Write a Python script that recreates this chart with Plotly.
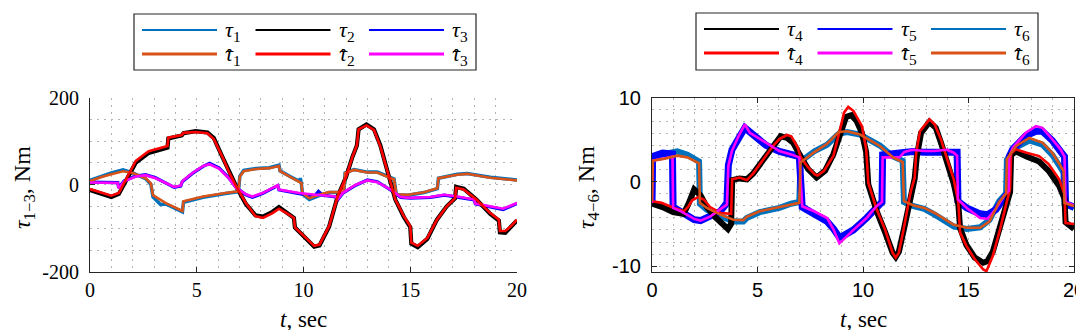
import plotly.graph_objects as go

W, H = 1084, 330

# ---------------- Left panel: joints 1-3 (t [s], torque [Nm]) ----------------
TAU1 = [(0,10),(0.5,19),(1.0,27),(1.55,34),(2.0,27),(2.6,14),(2.85,1),(2.95,-28),(3.3,-45),(3.55,-44),(4.33,-62),(4.38,-40),(5.3,-29),(6.35,-20),(6.95,-16),(7.02,20),(7.2,33),(7.77,37),(8.4,39),(8.85,45),(8.9,32),(9.33,20),(9.8,8),(9.85,15),(9.9,3),(9.95,-21),(10.27,-34),(10.73,-25),(11.2,-18),(11.67,-18),(11.9,-12),(11.95,27),(12.37,35),(12.99,29),(13.46,29),(14.24,13),(14.35,-23),(14.9,-24),(15.64,-18),(16.27,-9),(16.32,15),(17.2,24),(17.66,26),(18.75,17),(19.3,14),(20.0,11)]
TAU1_HAT = [(0,8),(0.5,17),(1.0,24),(1.55,31),(2.0,27),(2.6,15),(2.85,3),(2.95,-24),(3.55,-42),(4.33,-60),(4.38,-38),(5.3,-27),(6.35,-19),(6.95,-15),(7.02,19),(7.2,31),(7.77,36),(8.4,38),(8.85,43),(8.9,31),(9.33,19),(9.9,4),(9.95,-19),(10.27,-31),(10.73,-23),(11.2,-17),(11.67,-17),(11.9,-11),(11.95,27),(12.37,34),(12.99,28),(13.46,28),(14.24,12),(14.35,-22),(14.9,-23),(15.64,-17),(16.27,-8),(16.32,15),(17.2,23),(17.66,25),(18.75,16),(19.3,13),(20.0,10)]
TAU2 = [(0,-12),(0.5,-20),(1.0,-28),(1.35,-21),(1.7,12),(2.15,51),(2.75,73),(3.4,82),(3.63,85),(3.67,106),(4.3,113),(4.38,118),(4.95,123),(5.5,120),(5.8,107),(6.2,64),(6.5,30),(6.85,-4),(7.3,-44),(7.75,-70),(8.1,-73),(8.55,-62),(8.85,-51),(9.3,-66),(9.55,-76),(9.6,-98),(9.95,-116),(10.5,-142),(10.75,-139),(11.2,-96),(11.6,-27),(12.0,19),(12.3,65),(12.5,90),(12.58,127),(12.95,138),(13.3,127),(13.6,90),(14.0,19),(14.3,-34),(14.7,-74),(15.0,-97),(15.05,-135),(15.35,-143),(15.8,-124),(16.25,-80),(16.7,-50),(17.1,-31),(17.15,-5),(17.5,-9),(18.1,-34),(18.75,-67),(19.15,-82),(19.2,-109),(19.45,-110),(19.7,-98),(20.0,-82)]
TAU2_HAT = [(0,-10),(0.5,-17),(1.0,-25),(1.35,-19),(1.7,15),(2.15,55),(2.75,77),(3.4,86),(3.63,89),(3.67,108),(4.3,114),(4.38,119),(4.95,121),(5.5,118),(5.8,105),(6.2,64),(6.5,30),(6.85,-4),(7.3,-42),(7.75,-72),(8.1,-76),(8.55,-65),(8.85,-55),(9.3,-68),(9.55,-76),(9.6,-98),(9.95,-114),(10.5,-140),(10.75,-137),(11.2,-95),(11.6,-27),(12.0,19),(12.3,65),(12.5,90),(12.58,127),(12.95,136),(13.3,126),(13.6,88),(14.0,19),(14.3,-34),(14.7,-72),(15.0,-95),(15.05,-133),(15.35,-140),(15.8,-122),(16.25,-80),(16.7,-50),(17.1,-31),(17.15,-7),(17.5,-11),(18.1,-34),(18.75,-65),(19.15,-80),(19.2,-106),(19.45,-106),(19.7,-96),(20.0,-80)]
TAU3 = [(0,6),(0.6,5),(1.3,5),(1.34,-7),(1.6,9),(2.15,20),(2.6,23),(3.08,16),(3.55,3),(3.94,-6),(4.25,-3),(4.32,7),(4.8,26),(5.3,42),(5.6,49),(6.04,39),(6.5,16),(6.84,-6),(7.3,-23),(7.6,-29),(8.08,-20),(8.8,-2),(8.85,-12),(9.8,-21),(10.5,-27),(10.7,-15),(10.9,-24),(11.5,-28),(11.6,-35),(11.83,-20),(12.45,-1),(12.99,11),(13.46,7),(14.08,-12),(14.55,-29),(15.0,-31),(15.95,-29),(16.6,-24),(17.2,-28),(18.0,-35),(18.05,-44),(18.75,-52),(19.35,-57),(20.0,-43)]
TAU3_HAT = [(0,5),(0.6,4),(1.3,4),(1.34,-8),(1.6,8),(2.15,19),(2.6,22),(3.08,15),(3.55,4),(3.94,-5),(4.25,-2),(4.32,8),(4.8,27),(5.3,43),(5.6,47),(6.04,37),(6.5,15),(6.84,-7),(7.3,-22),(7.6,-27),(8.08,-19),(8.8,-1),(8.85,-11),(9.8,-19),(10.58,-23),(11.5,-27),(11.6,-34),(11.83,-19),(12.45,0),(12.99,10),(13.46,6),(14.08,-11),(14.55,-28),(15.0,-30),(15.95,-28),(16.6,-23),(17.2,-27),(18.0,-34),(18.05,-43),(18.75,-50),(19.35,-55),(20.0,-42)]

# ---------------- Right panel: joints 4-6 ----------------
TAU4 = [(0,-2.6),(0.5,-3.0),(1.0,-3.6),(1.5,-3.8),(1.75,-2.5),(2.0,-0.9),(2.3,-1.6),(2.6,-3.0),(3.0,-4.2),(3.3,-5.0),(3.6,-5.6),(3.75,-5.0),(3.8,0.2),(4.15,0.4),(4.5,0.3),(4.8,1.0),(5.4,3.0),(5.75,4.4),(6.1,5.4),(6.4,5.2),(6.7,4.6),(7.0,3.2),(7.4,1.5),(7.8,0.5),(8.2,1.3),(8.6,3.3),(8.95,6.0),(9.2,7.7),(9.45,7.9),(9.7,7.2),(9.95,5.8),(10.15,3.5),(10.25,-0.3),(10.65,-3.5),(11.05,-6.0),(11.4,-8.4),(11.55,-8.9),(11.7,-8.3),(11.95,-5.5),(12.25,-1.5),(12.45,0.4),(12.55,3.0),(12.75,5.8),(13.15,7.1),(13.45,6.4),(13.7,4.6),(14.0,2.2),(14.3,-0.2),(14.52,-2.7),(14.6,-5.5),(14.9,-7.5),(15.3,-9.0),(15.7,-9.6),(15.9,-9.4),(16.15,-8.3),(16.5,-5.5),(16.8,-2.6),(16.97,-1.2),(17.02,3.2),(17.25,3.6),(17.75,3.0),(18.35,2.4),(18.8,1.3),(19.3,-0.5),(19.55,-2.0),(19.6,-4.8),(20.0,-5.6)]
TAU4_HAT = [(0,-2.3),(0.45,-2.5),(1.05,-3.1),(1.5,-3.5),(1.7,-3.0),(1.9,-2.2),(2.2,-1.8),(2.45,-2.1),(2.75,-3.0),(3.25,-3.7),(3.75,-3.8),(3.8,0.3),(4.15,0.5),(4.5,0.2),(4.8,1.0),(5.4,3.1),(5.75,4.3),(6.05,5.1),(6.4,5.55),(6.6,5.4),(6.9,4.1),(7.05,2.9),(7.4,1.7),(7.7,0.9),(7.85,0.75),(8.15,1.3),(8.6,3.1),(8.95,6.6),(9.1,8.2),(9.3,8.9),(9.55,8.4),(9.95,6.6),(10.15,3.9),(10.25,-0.1),(10.65,-3.3),(11.05,-5.7),(11.4,-8.4),(11.55,-9.0),(11.7,-8.4),(11.95,-5.3),(12.25,-1.3),(12.45,0.5),(12.52,3.4),(12.7,6.0),(13.15,7.4),(13.4,6.8),(13.7,5.0),(14.0,2.6),(14.3,0.3),(14.52,-2.5),(14.6,-6.0),(14.9,-7.6),(15.3,-9.2),(15.7,-10.4),(15.85,-10.6),(16.15,-8.8),(16.5,-5.6),(16.8,-2.5),(16.97,-0.9),(17.02,3.4),(17.25,3.85),(17.75,3.45),(18.35,3.05),(18.8,2.1),(19.3,0.3),(19.55,-1.5),(19.6,-4.9),(20.0,-5.0)]
TAU5 = [(0,-2.5),(0.03,3.0),(0.5,3.4),(0.97,3.3),(1.0,-3.0),(1.37,-3.6),(2.0,-4.5),(2.3,-4.6),(2.77,-4.1),(3.24,-3.5),(3.55,-2.5),(3.62,2.0),(3.79,3.8),(4.1,5.2),(4.4,6.4),(4.64,5.9),(5.42,4.3),(6.04,3.6),(6.59,3.2),(6.98,3.0),(7.12,-3.0),(7.68,-3.9),(8.3,-4.7),(8.61,-5.6),(8.88,-6.6),(9.0,-6.5),(9.55,-5.7),(10.17,-4.3),(10.64,-2.9),(10.9,-2.4),(10.93,3.2),(11.73,3.4),(11.96,3.5),(12.35,3.6),(12.9,3.5),(13.36,3.5),(13.98,3.7),(14.3,3.6),(14.46,3.5),(14.5,-2.3),(14.92,-3.1),(15.55,-3.8),(15.9,-3.9),(16.3,-3.3),(16.7,-2.0),(16.9,-1.2),(16.93,3.0),(17.1,3.9),(17.73,5.5),(18.2,6.0),(18.5,6.0),(18.97,4.9),(19.36,3.6),(19.55,3.0),(19.6,-2.6),(20.0,-3.0)]
TAU5_HAT = [(0,-2.5),(0.03,2.5),(0.6,2.8),(0.97,3.0),(1.0,-3.1),(1.37,-3.5),(2.0,-4.4),(2.3,-4.6),(2.77,-4.1),(3.24,-3.3),(3.55,-2.7),(3.62,1.9),(3.79,3.7),(4.1,5.4),(4.4,6.8),(4.64,5.8),(5.42,4.65),(6.04,3.65),(6.59,3.25),(6.98,2.9),(7.12,-2.9),(7.68,-3.5),(8.3,-4.3),(8.61,-5.7),(8.88,-7.3),(9.0,-7.0),(9.55,-5.7),(10.17,-4.3),(10.64,-2.9),(10.9,-2.4),(10.93,2.9),(11.73,2.9),(11.96,3.55),(12.35,3.8),(12.9,3.65),(13.36,3.65),(13.98,3.8),(14.3,3.45),(14.46,3.1),(14.5,-2.1),(14.92,-3.1),(15.55,-4.3),(15.9,-4.4),(16.3,-3.2),(16.7,-1.6),(16.9,-1.1),(16.93,2.9),(17.1,4.05),(17.73,5.85),(18.2,6.6),(18.5,6.4),(18.97,5.05),(19.36,3.85),(19.55,3.0),(19.6,-2.4),(20.0,-2.8)]
TAU6 = [(0,-2.3),(0.04,2.9),(0.6,3.3),(1.2,3.6),(1.68,3.2),(2.23,2.4),(2.27,-2.6),(2.6,-3.3),(3.24,-4.1),(3.86,-4.7),(4.33,-4.7),(4.49,-4.3),(5.1,-3.6),(6.04,-3.1),(6.59,-2.6),(6.98,-2.4),(7.04,2.4),(7.68,3.6),(8.3,4.4),(8.85,5.7),(9.24,5.9),(9.86,5.6),(10.8,4.3),(11.42,3.0),(11.88,2.5),(11.94,-2.4),(12.4,-2.9),(12.9,-3.2),(13.4,-3.9),(14.3,-5.3),(14.92,-5.6),(15.55,-5.4),(16.0,-4.5),(16.45,-2.3),(16.78,-1.4),(16.82,2.6),(17.26,4.1),(17.88,4.9),(18.5,4.4),(18.97,3.2),(19.36,1.7),(19.5,1.1),(19.55,-2.6),(20.0,-3.1)]
TAU6_HAT = [(0,-2.3),(0.04,2.5),(0.6,2.75),(1.2,3.1),(1.68,2.9),(2.23,2.2),(2.27,-2.5),(2.6,-3.1),(3.24,-3.9),(3.86,-4.5),(4.33,-4.55),(4.49,-4.15),(5.1,-3.5),(6.04,-3.0),(6.59,-2.7),(6.98,-2.5),(7.04,2.3),(7.68,3.5),(8.3,4.5),(8.85,5.9),(9.24,6.0),(9.86,5.6),(10.8,4.25),(11.42,2.9),(11.88,2.35),(11.94,-2.3),(12.4,-2.8),(12.9,-3.1),(13.4,-3.7),(14.3,-5.1),(14.92,-5.45),(15.55,-5.45),(16.0,-4.7),(16.45,-2.4),(16.78,-1.4),(16.82,2.7),(17.26,4.25),(17.88,5.2),(18.5,4.65),(18.97,3.45),(19.36,1.9),(19.5,1.3),(19.55,-2.5),(20.0,-2.9)]

X_TICKS = [0, 5, 10, 15, 20]
L_Y_TICKS = [-200, 0, 200]
L_Y_TEXT = ["-200", "0", "200"]
R_Y_TICKS = [-10, 0, 10]
R_Y_TEXT = ["-10", "0", "10"]

C_LBLUE = "#0072BD"
C_ORANGE = "#D95319"
C_BLACK = "#000000"
C_RED = "#FF0000"
C_BLUE = "#0000FF"
C_MAG = "#FF00FF"

SERIF = "Liberation Serif"
SANS = "Liberation Sans"
AX = "#262626"
GRID = "#b4b4b4"

fig = go.Figure()


def add(series, name, color, width, xa, ya):
    t = [p[0] for p in series]
    v = [p[1] for p in series]
    fig.add_trace(go.Scatter(x=t, y=v, mode="lines", name=name,
                             line=dict(color=color, width=width),
                             xaxis=xa, yaxis=ya, showlegend=False,
                             hoverinfo="skip"))


# left panel
add(TAU1, "τ1", C_LBLUE, 3.5, "x", "y")
add(TAU3, "τ3", C_BLUE, 3.2, "x", "y")
add(TAU2, "τ2", C_BLACK, 4.2, "x", "y")
add(TAU1_HAT, "τ̂1", C_ORANGE, 2.6, "x", "y")
add(TAU3_HAT, "τ̂3", C_MAG, 2.6, "x", "y")
add(TAU2_HAT, "τ̂2", C_RED, 2.6, "x", "y")
# right panel
add(TAU6, "τ6", C_LBLUE, 6, "x2", "y2")
add(TAU5, "τ5", C_BLUE, 7, "x2", "y2")
add(TAU4, "τ4", C_BLACK, 6, "x2", "y2")
add(TAU4_HAT, "τ̂4", C_RED, 2.6, "x2", "y2")
add(TAU5_HAT, "τ̂5", C_MAG, 2.6, "x2", "y2")
add(TAU6_HAT, "τ̂6", C_ORANGE, 2.6, "x2", "y2")

L_DOM = [82 / W, 509 / W]
R_DOM = [644 / W, 1066 / W]
Y_DOM = [66 / H, 240.5 / H]
DASH = "2px,5px"


def xaxis(dom, anchor, mirror, font):
    return dict(domain=dom, anchor=anchor, range=[0, 20], tickmode="array",
                tickvals=X_TICKS, ticktext=[str(v) for v in X_TICKS],
                ticks="inside", ticklen=5, tickcolor=AX, tickwidth=1,
                showline=True, linecolor=AX, linewidth=1.2, mirror=mirror,
                showgrid=True, gridcolor=GRID, griddash=DASH, gridwidth=1,
                minor=dict(tickmode="linear", tick0=0, dtick=1, showgrid=True,
                           gridcolor=GRID, griddash=DASH, gridwidth=1),
                zeroline=False, tickfont=dict(family=font, size=20, color="#000"),
                ticklabelstandoff=0, automargin=False, fixedrange=True)


def yaxis(dom, anchor, rng, vals, text, mdt, mirror, font):
    return dict(domain=dom, anchor=anchor, range=rng, tickmode="array",
                tickvals=vals, ticktext=text,
                ticks="inside", ticklen=5, tickcolor=AX, tickwidth=1,
                showline=True, linecolor=AX, linewidth=1.2, mirror=mirror,
                showgrid=True, gridcolor=GRID, griddash=DASH, gridwidth=1,
                minor=dict(tickmode="linear", tick0=0, dtick=mdt, showgrid=True,
                           gridcolor=GRID, griddash=DASH, gridwidth=1),
                zeroline=False, tickfont=dict(family=font, size=20, color="#000"),
                ticklabelstandoff=6, automargin=False, fixedrange=True)


fig.update_layout(
    width=W, height=H, autosize=False,
    margin=dict(l=0, r=0, t=0, b=0),
    paper_bgcolor="white", plot_bgcolor="white",
    showlegend=False,
    xaxis=xaxis(L_DOM, "y", False, SERIF),
    yaxis=yaxis(Y_DOM, "x", [-200, 200], L_Y_TICKS, L_Y_TEXT, 50, False, SERIF),
    xaxis2=xaxis(R_DOM, "y2", "ticks", SANS),
    yaxis2=yaxis(Y_DOM, "x2", [-10.7, 10], R_Y_TICKS, R_Y_TEXT, 10 / 7, "ticks", SANS),
)

shapes = []
annotations = []


def px2x(px):
    return px / W


def py2y(py):
    return 1 - py / H


def legend(box_left, top, bottom, width, rows_y, entries):
    shapes.append(dict(type="rect", xref="paper", yref="paper",
                       x0=px2x(box_left), x1=px2x(box_left + width),
                       y0=py2y(bottom), y1=py2y(top),
                       line=dict(color=AX, width=1.2), fillcolor="white", layer="above"))
    for i, (sym, sub, hat, color, lw) in enumerate(entries):
        row, col = divmod(i, 3)
        x0 = box_left + 8 + col * 113.5
        y = rows_y[row]
        shapes.append(dict(type="line", xref="paper", yref="paper",
                           x0=px2x(x0), x1=px2x(x0 + 75), y0=py2y(y), y1=py2y(y),
                           line=dict(color=color, width=lw), layer="above"))
        annotations.append(dict(xref="paper", yref="paper", x=px2x(x0 + 81), y=py2y(y + 1),
                                xanchor="left", yanchor="middle", showarrow=False,
                                text="<i>" + sym + "</i><sub>" + sub + "</sub>",
                                font=dict(family=SERIF, size=22, color="#000")))
        if hat:
            annotations.append(dict(xref="paper", yref="paper", x=px2x(x0 + 87.5), y=py2y(y + 3),
                                    xanchor="center", yanchor="middle", showarrow=False,
                                    text="ˆ", font=dict(family=SERIF, size=20, color="#000")))


legend(126, 6, 62, 342, [22, 46], [
    ("τ", "1", False, C_LBLUE, 2), ("τ", "2", False, C_BLACK, 2), ("τ", "3", False, C_BLUE, 2),
    ("τ", "1", True, C_ORANGE, 3), ("τ", "2", True, C_RED, 3), ("τ", "3", True, C_MAG, 3),
])
legend(688, 5, 62, 342, [21, 45], [
    ("τ", "4", False, C_BLACK, 2), ("τ", "5", False, C_BLUE, 2), ("τ", "6", False, C_LBLUE, 2),
    ("τ", "4", True, C_RED, 3), ("τ", "5", True, C_MAG, 3), ("τ", "6", True, C_ORANGE, 3),
])

# axis titles
for cx in [(L_DOM[0] + L_DOM[1]) / 2 * W, (R_DOM[0] + R_DOM[1]) / 2 * W]:
    annotations.append(dict(xref="paper", yref="paper", x=px2x(cx), y=py2y(311),
                            xanchor="center", yanchor="middle", showarrow=False,
                            text="<i>t</i>, sec", font=dict(family=SERIF, size=23, color="#000")))
annotations.append(dict(xref="paper", yref="paper", x=px2x(16), y=py2y(180),
                        xanchor="center", yanchor="middle", showarrow=False, textangle=-90,
                        text="<i>τ</i><sub>1−3</sub>, Nm", font=dict(family=SERIF, size=24, color="#000")))
annotations.append(dict(xref="paper", yref="paper", x=px2x(580), y=py2y(180),
                        xanchor="center", yanchor="middle", showarrow=False, textangle=-90,
                        text="<i>τ</i><sub>4−6</sub>, Nm", font=dict(family=SERIF, size=24, color="#000")))

fig.update_layout(shapes=shapes, annotations=annotations)
fig.write_html("out.html")
